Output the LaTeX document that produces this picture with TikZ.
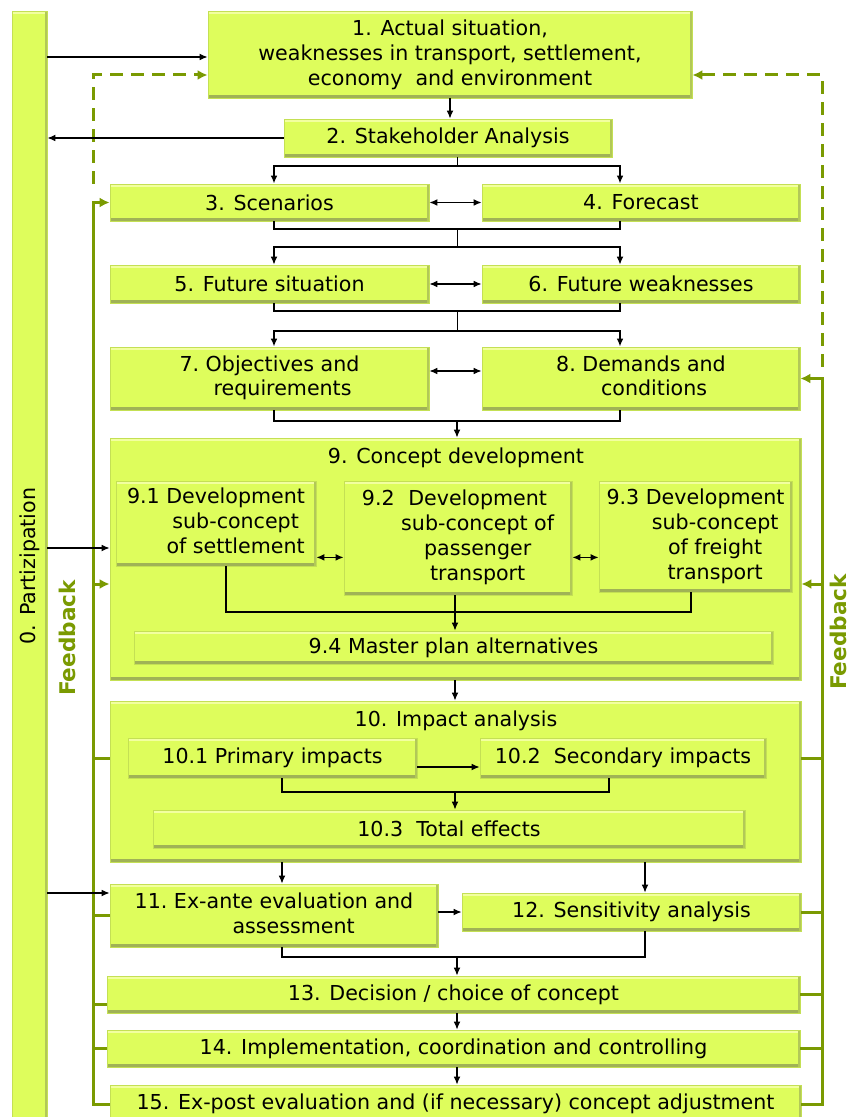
\documentclass[tikz,border=0pt]{standalone}
\usepackage{fontspec}
\setmainfont{DejaVu Sans}
\usetikzlibrary{arrows.meta,calc}

\definecolor{boxfill}{RGB}{222,253,92}
\definecolor{boxlight}{RGB}{242,255,160}
\definecolor{boxdark}{RGB}{160,178,86}
\definecolor{boxline}{RGB}{196,224,84}
\definecolor{fbgreen}{RGB}{122,154,1}

% number followed by a centred block of lines
\newcommand{\numtext}[2]{#1~\begin{tabular}[t]{@{}c@{}}#2\end{tabular}}

\begin{document}
\begin{tikzpicture}[x=0.5pt,y=-0.5pt,
    stage/.style={fill=boxfill, draw=boxline, line width=0.4pt, inner sep=0pt,
      font=\fontsize{10.3}{12.5}\selectfont,
      path picture={
        \fill[boxlight] (path picture bounding box.north west) rectangle ([yshift=-1.6pt]path picture bounding box.north east);
        \fill[boxdark] (path picture bounding box.south west) rectangle ([yshift=1.4pt]path picture bounding box.south east);
        \fill[boxdark!70!boxfill] (path picture bounding box.south east) rectangle ([xshift=-1pt]path picture bounding box.north east);
      }},
    wh/.style 2 args={minimum width=#1*0.5pt, minimum height=#2*0.5pt},
    head/.style={font=\fontsize{10.3}{12.5}\selectfont, inner sep=1pt},
    arr/.style={-{Latex[length=4pt,width=3.4pt]}, line width=0.6pt},
    dbl/.style={{Latex[length=4pt,width=3.4pt]}-{Latex[length=4pt,width=3.4pt]}, line width=0.6pt},
    bus/.style={line width=0.9pt},
    fb/.style={fbgreen, line width=1.5pt},
    fbarr/.style={fb, -{Latex[length=5pt,width=5pt]}},
    fbdash/.style={fbarr, dash pattern=on 6.5pt off 4pt},
    fblabel/.style={fbgreen, font=\fontsize{10.8}{13}\selectfont\bfseries, rotate=90, inner sep=0pt}
  ]
  \useasboundingbox (0,0) rectangle (849,1117);
  \clip (0,0) rectangle (849,1117);

  % participation bar
  \node[stage, wh={35}{1120}] (p0) at (29.5,571) {};
  \node[head, rotate=90] (p0lab) at (30,566) {0. Partizipation};

  % analysis steps
  \node[stage, wh={484}{87}, align=center] (s1) at (450,54.5)
    {1. Actual situation,\\weaknesses in transport, settlement,\\economy\ \ and environment};
  \node[stage, wh={328}{38}] (s2) at (448,138) {2. Stakeholder Analysis};
  \node[stage, wh={319}{37}] (s3) at (269.5,202.5) {3. Scenarios};
  \node[stage, wh={318}{37}] (s4) at (641,202.5) {4. Forecast};
  \node[stage, wh={319}{38}] (s5) at (269.5,284) {5. Future situation};
  \node[stage, wh={318}{38}] (s6) at (641,284) {6. Future weaknesses};
  \node[stage, wh={319}{63}] (s7) at (269.5,378.5) {\numtext{7.}{Objectives and\\requirements}};
  \node[stage, wh={318}{63}] (s8) at (641,378.5) {\numtext{8.}{Demands and\\conditions}};

  % concept development
  \node[stage, wh={691}{242}] (s9) at (455.5,559) {};
  \node[head] (s9t) at (456,458) {9. Concept development};
  \node[stage, wh={200}{85}] (s91) at (216,523.5) {\numtext{9.1}{Development\\sub-concept\\of settlement}};
  \node[stage, wh={228}{114}] (s92) at (458,538) {\numtext{9.2}{Development\\sub-concept of\\passenger\\transport}};
  \node[stage, wh={193}{111}] (s93) at (695.5,536.5) {\numtext{9.3}{Development\\sub-concept\\of freight\\transport}};
  \node[stage, wh={639}{33}] (s94) at (453.5,647.5) {9.4 Master plan alternatives};

  % impact analysis
  \node[stage, wh={691}{161}] (s10) at (455.5,781.5) {};
  \node[head] (s10t) at (456,721) {10. Impact analysis};
  \node[stage, wh={289}{40}] (s101) at (272.5,758) {10.1 Primary impacts};
  \node[stage, wh={286}{40}] (s102) at (623,758) {10.2\ \ Secondary impacts};
  \node[stage, wh={592}{38}] (s103) at (449,829) {10.3\ \ Total effects};

  % evaluation and decision
  \node[stage, wh={328}{63}] (s11) at (274,915.5) {\numtext{11.}{Ex-ante evaluation and\\assessment}};
  \node[stage, wh={339}{38}] (s12) at (631.5,912) {12. Sensitivity analysis};
  \node[stage, wh={693}{37}] (s13) at (453.5,994.5) {13. Decision / choice of concept};
  \node[stage, wh={693}{37}] (s14) at (453.5,1048.5) {14. Implementation, coordination and controlling};
  \node[stage, wh={691}{38}] (s15) at (455.5,1104) {15. Ex-post evaluation and (if necessary) concept adjustment};

  \node[fblabel] (fbl) at (67,638) {Feedback};
  \node[fblabel] (fbr) at (838,632) {Feedback};

  % helper coordinates
  \coordinate (fl) at (93,0);
  \coordinate (fr) at (822,0);
  \coordinate (cl) at (274,0);
  \coordinate (cr) at (620,0);
  \coordinate (k2) at (457,166);
  \coordinate (k34) at (457,229);
  \coordinate (k5) at (457,247);
  \coordinate (k56) at (457,311);
  \coordinate (k7) at (457,331);
  \coordinate (k78) at (457,421);
  \coordinate (c91) at (226,612);
  \coordinate (c93) at (691,612);
  \coordinate (k9) at (455,612);
  \coordinate (c101) at (282,792);
  \coordinate (c102) at (609,792);
  \coordinate (k10) at (455,792);
  \coordinate (c12) at (645,957);
  \coordinate (k11) at (457,957);
  \coordinate (g9l) at ($(s9.west)+(0,25)$);
  \coordinate (g9r) at ($(s9.east)+(0,25)$);
  \coordinate (g13) at ($(s13.west)+(0,9.5)$);
  \coordinate (d01) at ($(s1.west)+(0,2.5)$);
  \coordinate (d0a) at ($(s9.west)+(0,-11)$);
  \coordinate (d0b) at ($(s11.west)+(0,-22.5)$);

  % feedback loops
  \draw[fbdash] (fl |- s3.north) |- ($(s1.west)+(0,20.5)$);
  \draw[fbdash] ($(fr |- s8.north)+(0,20)$) |- ($(s1.east)+(0,20.5)$);
  \draw[fbarr] (s15.west) -| (fl |- s3.west) -- (s3.west);
  \draw[fbarr] (g9l -| fl) -- (g9l);
  \draw[fb] (fl |- s101) -- (s101 -| s10.west);
  \draw[fb] (fl |- s11.west) -- (s11.west);
  \draw[fb] (g13 -| fl) -- (g13);
  \draw[fb] (fl |- s14.west) -- (s14.west);
  \draw[fbarr] (s15.east) -| (fr |- s8.east) -- (s8.east);
  \draw[fbarr] (g9r -| fr) -- (g9r);
  \draw[fb] (fr |- s102) -- (s102 -| s10.east);
  \draw[fb] (fr |- s12.east) -- (s12.east);
  \draw[fb] (fr |- s13.east) -- (s13.east);
  \draw[fb] (fr |- s14.east) -- (s14.east);

  % participation
  \draw[arr] (d01 -| p0.east) -- (d01);
  \draw[arr] (s2.west) -- (s2.west -| p0.east);
  \draw[arr] (d0a -| p0.east) -- (d0a);
  \draw[arr] (d0b -| p0.east) -- (d0b);

  % main flow
  \draw[arr] (s1.south) -- (s1.south |- s2.north);
  \draw (k2 |- s2.south) -- (k2);
  \draw[arr, bus] (k2) -| (cl |- s3.north);
  \draw[arr, bus] (k2) -| (cr |- s4.north);
  \draw[dbl] (s3.east) -- (s4.west);
  \draw[bus] (cl |- s3.south) |- (k34) -| (cr |- s4.south);
  \draw (k34) -- (k5);
  \draw[arr] (k5) -| (cl |- s5.north);
  \draw[arr] (k5) -| (cr |- s6.north);
  \draw[dbl] (s5.east) -- (s6.west);
  \draw[bus] (cl |- s5.south) |- (k56) -| (cr |- s6.south);
  \draw (k56) -- (k7);
  \draw[arr, bus] (k7) -| (cl |- s7.north);
  \draw[arr, bus] (k7) -| (cr |- s8.north);
  \draw[dbl] ($(s7.east)+(0,-7.5)$) -- ($(s8.west)+(0,-7.5)$);
  \draw[bus] (cl |- s7.south) |- (k78) -| (cr |- s8.south);
  \draw[arr] (k78) -- (k78 |- s9.north);

  \draw[dbl] ($(s91.south east)+(0,-9)$) coordinate (d9) -- (d9 -| s92.west);
  \draw[dbl] (d9 -| s92.east) -- (d9 -| s93.west);
  \draw[bus] (c91 |- s91.south) |- (k9) -| (c93 |- s93.south);
  \draw[arr] (k9 |- s92.south) -- (k9 |- s94.north);
  \draw[arr] (k9 |- s9.south) -- (k9 |- s10.north);

  \draw[arr] ($(s101.east)+(0,9)$) coordinate (d10) -- (d10 -| s102.west);
  \draw[bus] (c101 |- s101.south) |- (k10) -| (c102 |- s102.south);
  \draw[arr] (k10) -- (k10 |- s103.north);
  \draw[arr] (c101 |- s10.south) -- (c101 |- s11.north);
  \draw[arr] (c12 |- s10.south) -- (c12 |- s12.north);
  \draw[arr] (s11.east |- s12.west) -- (s12.west);
  \draw[bus] (c101 |- s11.south) |- (k11) -| (c12 |- s12.south);
  \draw[arr] (k11) -- (k11 |- s13.north);
  \draw[arr] (k11 |- s13.south) -- (k11 |- s14.north);
  \draw[arr] (k11 |- s14.south) -- (k11 |- s15.north);
\end{tikzpicture}
\end{document}
